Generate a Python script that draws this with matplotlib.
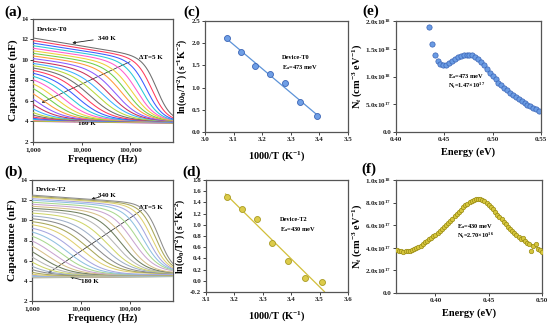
import numpy as np
import matplotlib
matplotlib.use("Agg")
import matplotlib.pyplot as plt
from matplotlib.ticker import NullLocator, FormatStrFormatter

plt.rcParams['font.family'] = ['Liberation Serif', 'DejaVu Serif']
plt.rcParams['font.weight'] = 'bold'
plt.rcParams['axes.labelweight'] = 'bold'
plt.rcParams['mathtext.fontset'] = 'custom'
plt.rcParams['mathtext.rm'] = 'Liberation Serif:bold'
plt.rcParams['mathtext.it'] = 'Liberation Serif:bold:italic'
plt.rcParams['mathtext.bf'] = 'Liberation Serif:bold'

# ---- (a)/(b) capacitance spectra, one curve per temperature (180..340 K, dT = 5 K)
temps = list(range(180, 345, 5))

# device T0: low-frequency capacitance, relaxation frequency (log10 Hz), sharpness, high-f capacitance
a_c_low = [5.3, 5.5, 5.7, 5.9, 6.1, 6.3, 6.5, 6.7, 6.9, 7.1, 7.3, 7.5, 7.7, 7.9, 8.1, 8.3, 8.5,
           8.7, 8.9, 9.1, 9.3, 9.5, 9.7, 9.9, 10.15, 10.4, 10.65, 10.9, 11.15, 11.4, 11.65, 11.9, 12.15]
a_log_ft = [1.40, 1.54, 1.68, 1.82, 1.96, 2.10, 2.24, 2.38, 2.52, 2.66, 2.80, 2.94, 3.08, 3.22, 3.36, 3.50, 3.64,
            3.78, 3.92, 4.06, 4.20, 4.34, 4.47, 4.60, 4.72, 4.85, 4.95, 5.05, 5.15, 5.25, 5.35, 5.45, 5.55]
a_beta = [1.5] * 23 + [1.6, 1.7, 1.8, 1.9, 2.0, 2.2, 2.4, 2.6, 2.8, 3.0]
a_c_high = [4.00, 4.02, 4.05, 4.08, 4.10, 4.12, 4.15, 4.18] + [4.2] * 25

# device T2
b_c_low = [5.4, 5.6, 5.8, 6.0, 6.25, 6.5, 6.75, 7.0, 7.25, 7.5, 7.75, 8.0, 8.25, 8.5, 8.75, 9.0, 9.25,
           9.5, 9.75, 10.0, 10.25, 10.5, 10.75, 11.0, 11.2, 11.4, 11.6, 11.8, 12.0, 12.15, 12.3, 12.4, 12.5]
b_log_ft = [1.50, 1.64, 1.78, 1.92, 2.06, 2.20, 2.34, 2.48, 2.62, 2.76, 2.90, 3.04, 3.18, 3.32, 3.46, 3.60, 3.74,
            3.88, 4.02, 4.16, 4.30, 4.44, 4.57, 4.70, 4.83, 4.95, 5.07, 5.18, 5.28, 5.37, 5.45, 5.53, 5.60]
b_beta = [1.4] * 22 + [1.5, 1.6, 1.7, 1.8, 1.9, 2.0, 2.2, 2.4, 2.6, 2.8, 3.0]
b_c_high = [4.30, 4.32, 4.34, 4.36, 4.38, 4.40, 4.42, 4.45] + [4.5] * 10 + [4.6] * 8 + [4.7] * 7

a_colors = ['#6e6e6e', '#ff3b5b', '#3b5bff', '#27c8d8', '#ff5ccd', '#f0d03b',
            '#6fcf4a', '#ff9a3b', '#8a5cff', '#c8325a', '#3bb0ff', '#b8d83b']
b_colors = ['#8c8c8c', '#a8a65a', '#e0d070', '#a7a7e0', '#8fc1e0', '#a9d88f',
            '#c9a5d0', '#d7c08a', '#6f7f5f', '#b6b6b6', '#cfd66a', '#9fb0c8']

# ---- (c)/(d) Arrhenius plots
c_invT = [3.077, 3.125, 3.175, 3.226, 3.279, 3.333, 3.390]
c_lnw = [2.12, 1.81, 1.49, 1.30, 1.10, 0.68, 0.37]
d_invT = [3.175, 3.226, 3.279, 3.333, 3.390, 3.448, 3.509]
d_lnw = [1.50, 1.29, 1.10, 0.68, 0.36, 0.05, -0.03]

# ---- (e)/(f) trap density of states
e_energy = [0.434, 0.437, 0.440, 0.443, 0.446, 0.449, 0.452, 0.455, 0.458, 0.461, 0.464, 0.467, 0.470,
            0.473, 0.476, 0.479, 0.482, 0.485, 0.488, 0.491, 0.494, 0.497, 0.500, 0.503, 0.506, 0.509,
            0.512, 0.515, 0.518, 0.521, 0.524, 0.527, 0.530, 0.533, 0.536, 0.539, 0.542, 0.545, 0.548]
e_nt = [1.90, 1.59, 1.39, 1.28, 1.23, 1.21, 1.21, 1.24, 1.28, 1.32, 1.35, 1.37, 1.38,
        1.385, 1.385, 1.38, 1.36, 1.32, 1.27, 1.20, 1.13, 1.07, 1.01, 0.95, 0.89, 0.84,
        0.79, 0.75, 0.71, 0.67, 0.63, 0.59, 0.55, 0.52, 0.49, 0.46, 0.435, 0.41, 0.375]  # x1e18

f_energy = [0.364, 0.366, 0.368, 0.370, 0.372, 0.374, 0.376, 0.378, 0.380, 0.382, 0.384, 0.386, 0.388,
            0.390, 0.392, 0.394, 0.396, 0.398, 0.400, 0.402, 0.404, 0.406, 0.408, 0.410, 0.412, 0.414,
            0.416, 0.418, 0.420, 0.422, 0.424, 0.426, 0.428, 0.430, 0.432, 0.434, 0.436, 0.438, 0.440,
            0.442, 0.444, 0.446, 0.448, 0.450, 0.452, 0.454, 0.456, 0.458, 0.460, 0.462, 0.464, 0.466,
            0.468, 0.470, 0.472, 0.474, 0.476, 0.478, 0.480, 0.482, 0.484, 0.486, 0.488, 0.490, 0.492,
            0.494, 0.496, 0.498, 0.500]
f_nt = [3.80, 3.72, 3.68, 3.66, 3.68, 3.72, 3.76, 3.82, 3.90, 3.98, 4.08, 4.20, 4.34,
        4.50, 4.62, 4.76, 4.88, 5.02, 5.16, 5.30, 5.46, 5.62, 5.80, 5.98, 6.18, 6.38,
        6.58, 6.78, 6.98, 7.18, 7.38, 7.58, 7.76, 7.92, 8.06, 8.16, 8.24, 8.30, 8.32,
        8.30, 8.24, 8.12, 7.98, 7.82, 7.62, 7.40, 7.18, 6.94, 6.72, 6.52, 6.30, 6.10,
        5.88, 5.70, 5.50, 5.30, 5.10, 4.95, 4.80, 4.88, 4.62, 4.40, 4.32, 3.75, 4.15,
        4.35, 3.90, 3.80, 3.62]  # x1e17


def cap_curve(f, c_low, c_high, log_ft, beta, drift, base_drift):
    decades = np.log10(f / 1e3)
    return c_high * (1 - base_drift * decades) + \
        (c_low - c_high) * (1 - drift * decades) / (1 + (f / 10 ** log_ft) ** beta)


fig = plt.figure(figsize=(5.5, 3.26), dpi=100)


def axes_px(l, t, r, b):
    ax = fig.add_axes([l / 550, 1 - b / 326, (r - l) / 550, (b - t) / 326])
    for s in ax.spines.values():
        s.set_color('#555555')
        s.set_linewidth(0.9)
    ax.tick_params(direction='out', length=2, width=0.6, labelsize=5, pad=1.5, colors='#222222')
    return ax


def txt(ax, x, y, s, size=5, **kw):
    ax.text(x, y, s, transform=ax.transAxes, fontsize=size, fontweight='bold', **kw)


def arrow(ax, xy, xytext, lw=0.6):
    ax.annotate('', xy=xy, xytext=xytext, xycoords='axes fraction', textcoords='axes fraction',
                arrowprops=dict(arrowstyle='-|>', color='#222222', lw=lw, mutation_scale=4,
                                shrinkA=0, shrinkB=0))


freq = np.logspace(3, np.log10(7.5e5), 300)


def spectra(ax, c_low, log_ft, beta, c_high, colors, drift, base_drift, device, pos):
    n = len(temps)
    for k, i in enumerate(range(n - 1, -1, -1)):
        ax.plot(freq, cap_curve(freq, c_low[i], c_high[i], log_ft[i], beta[i], drift, base_drift),
                color=colors[k % len(colors)], lw=0.75, zorder=n - k)
    ax.set_xscale('log')
    ax.set_xlim(1e3, 7.5e5)
    ax.set_ylim(2, 14)
    ax.set_xticks([1e3, 1e4, 1e5])
    ax.set_xticklabels(['1,000', '10,000', '100,000'])
    ax.xaxis.set_minor_locator(NullLocator())
    ax.set_yticks(range(2, 15, 2))
    ax.set_xlabel('Frequency (Hz)', fontsize=7.5, labelpad=2)
    ax.set_ylabel('Capacitance (nF)', fontsize=8, labelpad=2)
    txt(ax, 0.025, pos['dev'], device, size=5)
    txt(ax, pos['k340'][0], pos['k340'][1], '340 K', size=5, ha='center', va='center')
    arrow(ax, pos['a340'][0], pos['a340'][1])
    txt(ax, pos['dt'][0], pos['dt'][1], 'ΔT=5 K', size=5, ha='center', va='center')
    arrow(ax, pos['adt'][0], pos['adt'][1], lw=0.5)
    txt(ax, pos['k180'][0], pos['k180'][1], '180 K', size=5, ha='center', va='center')
    arrow(ax, pos['a180'][0], pos['a180'][1])


ax_a = axes_px(33, 19, 173, 142)
spectra(ax_a, a_c_low, a_log_ft, a_beta, a_c_high, a_colors, 0.09, 0.015, 'Device-T0',
        dict(dev=0.9, k340=(0.53, 0.84), a340=((0.28, 0.805), (0.43, 0.83)),
             dt=(0.84, 0.69), adt=((0.062, 0.32), (0.693, 0.653)),
             k180=(0.385, 0.152), a180=((0.216, 0.193), (0.30, 0.165))))

ax_b = axes_px(32, 180, 173, 301)
spectra(ax_b, b_c_low, b_log_ft, b_beta, b_c_high, b_colors, 0.05, -0.01, 'Device-T2',
        dict(dev=0.91, k340=(0.53, 0.874), a340=((0.42, 0.84), (0.48, 0.86)),
             dt=(0.84, 0.773), adt=((0.115, 0.23), (0.777, 0.75)),
             k180=(0.41, 0.161), a180=((0.27, 0.2), (0.35, 0.175))))


def arrhenius(ax, x, y, fill, edge, line, xlim, ylim, yticks):
    p = np.polyfit(x, y, 1)
    xs = np.array([x[0] - 0.006, x[-1] + 0.008])
    ax.plot(xs, np.polyval(p, xs), color=line, lw=0.9, zorder=2)
    ax.plot(x, y, 'o', ms=4.3, mfc=fill, mec=edge, mew=0.6, zorder=3)
    ax.set_xlim(*xlim)
    ax.set_ylim(*ylim)
    ax.set_xticks(np.round(np.arange(xlim[0], xlim[1] + 0.001, 0.1), 2))
    ax.set_yticks(yticks)
    ax.xaxis.set_major_formatter(FormatStrFormatter('%.1f'))
    ax.yaxis.set_major_formatter(FormatStrFormatter('%.1f'))
    ax.set_xlabel('1000/T (K$^{-1}$)', fontsize=7.5, labelpad=5)
    ax.set_ylabel('ln(ω$_0$/T$^2$) (s$^{-1}$K$^{-2}$)', fontsize=7, labelpad=2)


ax_c = axes_px(205, 21, 348, 132)
arrhenius(ax_c, c_invT, c_lnw, '#6f9fe6', '#3a64b5', '#5d93d8', (3.0, 3.5), (0.0, 2.5),
          np.arange(0, 2.51, 0.5))
txt(ax_c, 0.54, 0.655, 'Device-T0', size=4.6)
txt(ax_c, 0.54, 0.57, 'E$_a$=473 meV', size=4.6)

ax_d = axes_px(206, 180, 348, 292)
arrhenius(ax_d, d_invT, d_lnw, '#dccb4a', '#a89a20', '#d2bf3a', (3.1, 3.6), (-0.2, 1.8),
          np.round(np.arange(-0.2, 1.81, 0.2), 1))
txt(ax_d, 0.52, 0.63, 'Device-T2', size=4.6)
txt(ax_d, 0.52, 0.545, 'E$_a$=430 meV', size=4.6)

# (e)
ax_e = axes_px(396, 21, 541, 132)
ax_e.plot(e_energy, e_nt, 'o', ms=3.8, mfc='#6a9be3', mec='#3a64b5', mew=0.5)
ax_e.set_xlim(0.40, 0.55)
ax_e.set_ylim(0, 2.0)
ax_e.set_xticks([0.40, 0.45, 0.50, 0.55])
ax_e.set_xticklabels(['0.40', '0.45', '0.50', '0.55'])
ax_e.set_yticks([0, 0.5, 1.0, 1.5, 2.0])
ax_e.set_yticklabels(['0.0', '5.0x10$^{17}$', '1.0x10$^{18}$', '1.5x10$^{18}$', '2.0x10$^{18}$'])
ax_e.set_xlabel('Energy (eV)', fontsize=7.5, labelpad=4)
ax_e.set_ylabel('N$_t$ (cm$^{-3}$ eV$^{-1}$)', fontsize=7.5, labelpad=1)
txt(ax_e, 0.36, 0.49, 'E$_a$=473 meV', size=4.6)
txt(ax_e, 0.36, 0.40, 'N$_t$=1.47×10$^{17}$', size=4.6)

# (f)
ax_f = axes_px(396, 180, 542, 293)
fx = np.array(f_energy)
fy = np.array(f_nt) / 10
coef = np.polyfit((fx - 0.432) / 0.07, fy, 7)
xs = np.linspace(fx[0], fx[-1], 200)
ax_f.plot(xs, np.polyval(coef, (xs - 0.432) / 0.07), color='#a89a1c', lw=0.9, zorder=2)
ax_f.plot(fx, fy, 'o', ms=3.2, mfc='#d6c63c', mec='#9a8c14', mew=0.5, zorder=3)
ax_f.set_xlim(0.363, 0.50)
ax_f.set_ylim(0, 1.0)
ax_f.set_xticks([0.40, 0.45, 0.50])
ax_f.set_xticklabels(['0.40', '0.45', '0.50'])
ax_f.set_yticks([0, 0.2, 0.4, 0.6, 0.8, 1.0])
ax_f.set_yticklabels(['0.0', '2.0x10$^{17}$', '4.0x10$^{17}$', '6.0x10$^{17}$',
                      '8.0x10$^{17}$', '1.0x10$^{18}$'])
ax_f.set_xlabel('Energy (eV)', fontsize=7.5, labelpad=4)
ax_f.set_ylabel('N$_t$ (cm$^{-3}$ eV$^{-1}$)', fontsize=7.5, labelpad=1)
txt(ax_f, 0.42, 0.575, 'E$_a$=430 meV', size=4.6)
txt(ax_f, 0.42, 0.485, 'N$_t$=2.70×10$^{16}$', size=4.6)

for lab, x, y in [('(a)', 4, 12), ('(c)', 183, 12), ('(e)', 362, 11),
                  ('(b)', 4, 172), ('(d)', 182, 172), ('(f)', 361, 169)]:
    fig.text(x / 550, 1 - y / 326, lab, fontsize=11, fontweight='bold', va='center')

fig.savefig('out.png', dpi=100)
